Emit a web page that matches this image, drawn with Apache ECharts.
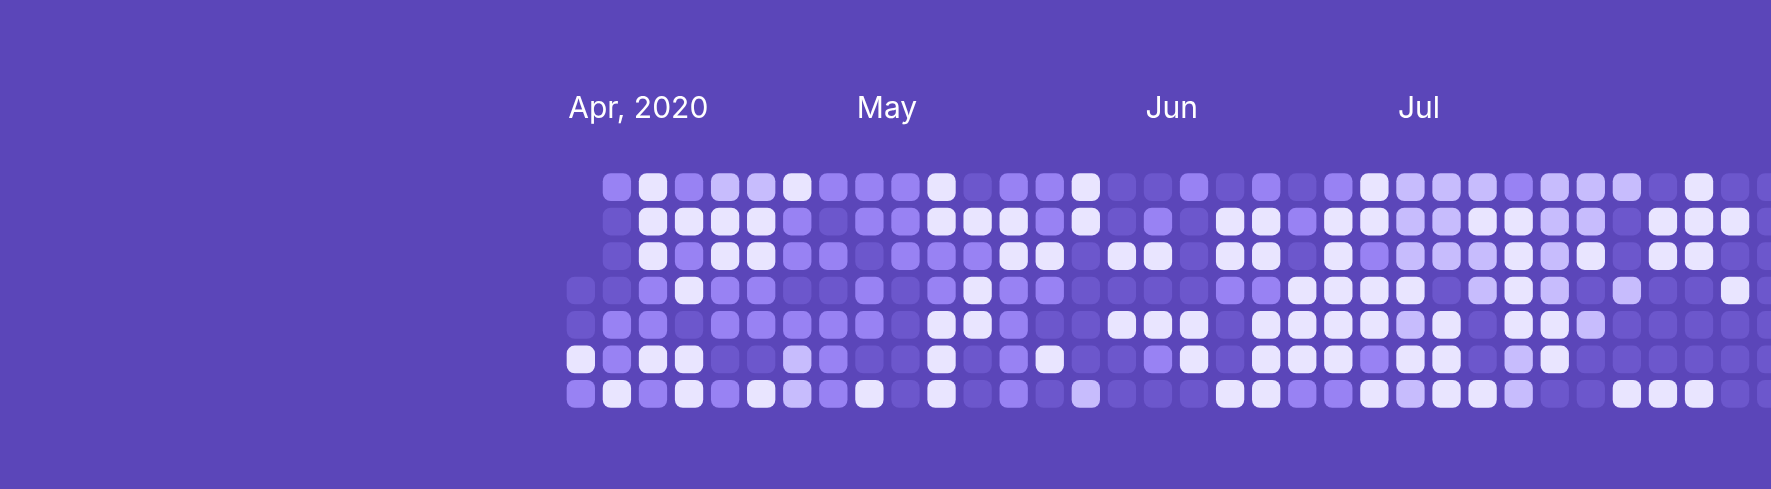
<!DOCTYPE html>
<html>
<head>
<meta charset="utf-8">
<script src="https://cdn.jsdelivr.net/npm/echarts@6/dist/echarts.min.js"></script>
<style>
  html, body { margin: 0; padding: 0; background: #5B46B9; }
  #chart { width: 1771px; height: 489px; }
</style>
</head>
<body>
<div id="chart"></div>
<script>
// Week columns (week starting Sunday), first column contains Wed 1 Apr 2020
var weeks = ['W1','W2','W3','W4','W5','W6','W7','W8','W9','W10','W11','W12','W13','W14','W15','W16','W17',
             'W18','W19','W20','W21','W22','W23','W24','W25','W26','W27','W28','W29','W30','W31','W32','W33','W34'];
var days = ['Sun','Mon','Tue','Wed','Thu','Fri','Sat'];

// Month tick labels and the week column where each label sits
var monthNames = ['Apr, 2020', 'May', 'Jun', 'Jul'];
var monthCols = [0, 8, 16, 23];

// Activity level per day (0..3), one array per weekday row; null = no day
var sun = [null,1,3,1,2,2,3,1,1,1,3,0,1,1,3,0,0,1,0,1,0,1,3,2,2,2,1,2,2,2,0,3,0,0];
var mon = [null,0,3,3,3,3,1,0,1,1,3,3,3,1,3,0,1,0,3,3,1,3,3,2,2,3,3,2,2,0,3,3,3,0];
var tue = [null,0,3,1,3,3,1,1,0,1,1,1,3,3,0,3,3,0,3,3,0,3,1,2,2,2,3,2,3,0,3,3,0,0];
var wed = [0,0,1,3,1,1,0,0,1,0,1,3,1,1,0,0,0,0,1,1,3,3,3,3,0,2,3,2,0,2,0,0,3,0];
var thu = [0,1,1,0,1,1,1,1,1,0,3,3,1,0,0,3,3,3,0,3,3,3,3,2,3,0,3,3,2,0,0,0,0,0];
var fri = [3,1,3,3,0,0,2,1,0,0,3,0,1,3,0,0,1,3,0,3,3,3,1,3,3,0,2,3,0,0,0,0,0,0];
var sat = [1,3,1,3,1,3,2,1,3,0,3,0,1,0,2,0,0,0,3,3,1,1,3,2,3,3,2,0,0,3,3,3,0,0];

var levelColors = ['#6C57CC', '#9882F3', '#C7BCFD', '#E9E5FF'];

var rows = [sun, mon, tue, wed, thu, fri, sat];
var data = [];
rows.forEach(function (row, r) {
  row.forEach(function (v, c) {
    if (v !== null) data.push([c, r, v]);
  });
});

var chart = echarts.init(document.getElementById('chart'));
chart.setOption({
  backgroundColor: '#5B46B9',
  animation: false,
  grid: { left: 562.8, top: 169.9, width: 1226.4, height: 241.2, outerBoundsMode: 'none', containLabel: false },
  xAxis: [
    { type: 'category', data: weeks, show: false, boundaryGap: true },
    {
      type: 'value', position: 'top', min: 0, max: weeks.length, interval: 1,
      axisLine: { show: false }, axisTick: { show: false }, splitLine: { show: false },
      axisLabel: {
        show: true,
        color: '#FFFFFF',
        fontFamily: 'Inter',
        fontSize: 30,
        fontWeight: 400,
        align: 'left',
        verticalAlign: 'middle',
        margin: 60.6,
        padding: [0, 0, 0, 5.5],
        formatter: function (v) {
          var i = monthCols.indexOf(Math.round(v));
          return i >= 0 ? monthNames[i] : '';
        }
      }
    }
  ],
  yAxis: { type: 'category', data: days, inverse: true, show: false },
  visualMap: {
    type: 'piecewise', show: false, dimension: 2, seriesIndex: 0,
    pieces: levelColors.map(function (col, i) { return { value: i, color: col }; })
  },
  series: [{
    type: 'custom',
    xAxisIndex: 0,
    yAxisIndex: 0,
    data: data,
    renderItem: function (params, api) {
      var c = api.coord([api.value(0), api.value(1)]);
      var s = api.size([1, 1]);
      var w = s[0] * 0.785, h = s[1] * 0.804;
      return {
        type: 'rect',
        shape: { x: c[0] - w / 2, y: c[1] - h / 2, width: w, height: h, r: 8 },
        style: { fill: api.visual('color') }
      };
    }
  }]
});
</script>
</body>
</html>
